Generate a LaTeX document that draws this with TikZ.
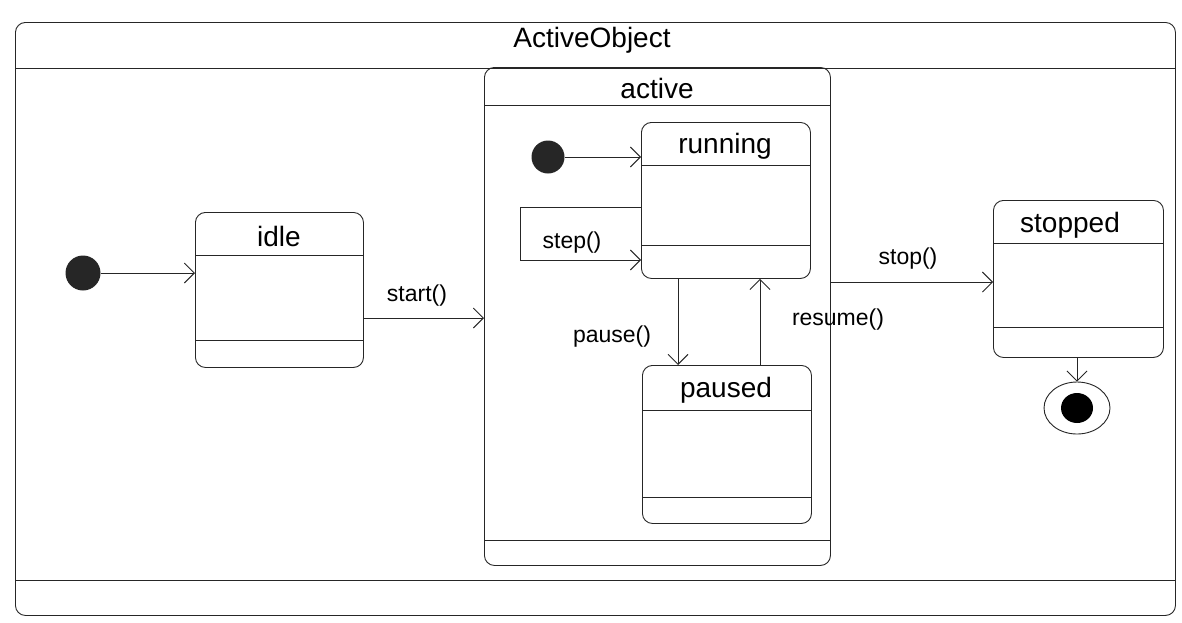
\documentclass[tikz,border=0pt]{standalone}
\usepackage{fontspec}
\setmainfont{Liberation Sans}
\usetikzlibrary{arrows.meta,shapes.geometric,calc}
\begin{document}
\begin{tikzpicture}[x=1pt,y=-1pt,
  ln/.style={draw=black!85,line width=0.9pt},
  statebox/.style={ln,rectangle,rounded corners=10pt,anchor=north west,inner sep=0pt},
  stname/.style={font=\fontsize{28}{30}\selectfont,inner sep=0pt,anchor=center},
  lbl/.style={font=\fontsize{23}{26}\selectfont,inner sep=0pt,anchor=center},
  initdot/.style={circle,fill=black!85,inner sep=0pt,minimum size=35pt},
  tr/.style={ln,-{Straight Barb[length=10pt,width=20pt,line width=0.9pt]}}]
\useasboundingbox (0,0) rectangle (1182,622);
% outer frame
\node[statebox,minimum width=1160pt,minimum height=593pt] (outer) at (15,22) {};
\draw[ln] (15,68) -- (1175,68);
\draw[ln] (15,580) -- (1175,580);
\node[stname] (outerT) at (592,40) {ActiveObject};
% active composite
\node[statebox,minimum width=346pt,minimum height=498pt] (active) at (484,67) {};
\draw[ln] (484,105) -- (830,105);
\draw[ln] (484,540) -- (830,540);
\node[stname] (activeT) at (657,88) {active};
% idle
\node[statebox,minimum width=168pt,minimum height=155pt] (idle) at (195,212) {};
\draw[ln] (195,255) -- (363,255);
\draw[ln] (195,340) -- (363,340);
\node[stname] (idleT) at (279,236) {idle};
% running
\node[statebox,minimum width=169pt,minimum height=156pt] (running) at (641,122) {};
\draw[ln] (641,165) -- (810,165);
\draw[ln] (641,245) -- (810,245);
\node[stname] (runningT) at (725,146) {running};
% paused
\node[statebox,minimum width=169pt,minimum height=158pt] (paused) at (642,365) {};
\draw[ln] (642,410) -- (811,410);
\draw[ln] (642,497) -- (811,497);
\node[stname] (pausedT) at (726,390) {paused};
% stopped
\node[statebox,minimum width=170pt,minimum height=157pt] (stopped) at (993,200) {};
\draw[ln] (993,243) -- (1163,243);
\draw[ln] (993,327) -- (1163,327);
\node[stname] (stoppedT) at (1070,225) {stopped};
% pseudo states
\node[initdot] (init1) at (83,273) {};
\node[initdot,minimum size=33pt] (init2) at (548,157) {};
\node[ellipse,ln,minimum width=66pt,minimum height=52pt,inner sep=0pt] (final) at (1077,408) {};
\fill[black] (final.center) ellipse [x radius=16pt, y radius=15pt];
% helper coordinates
\coordinate (yStart) at (0,318);
\coordinate (yStop) at (0,282);
\coordinate (xPause) at (678,0);
\coordinate (xResume) at (760,0);
\coordinate (stepA) at (641,207);
\coordinate (stepB) at (520,207);
\coordinate (stepC) at (520,260);
\coordinate (stepD) at (641,260);
% transitions
\draw[tr] (init1) -- (idle.west |- init1);
\draw[tr] (init2) -- (running.west |- init2);
\draw[tr] (idle.east |- yStart) -- (active.west |- yStart);
\node[lbl] (startL) at (417,296) {start()};
\draw[tr] (active.east |- yStop) -- (stopped.west |- yStop);
\node[lbl] (stopL) at (908,259) {stop()};
\draw[tr] (xPause |- running.south) -- (xPause |- paused.north);
\node[lbl] (pauseL) at (612,337) {pause()};
\draw[tr] (xResume |- paused.north) -- (xResume |- running.south);
\node[lbl] (resumeL) at (838,320) {resume()};
\draw[tr] (stepA) -- (stepB) -- (stepC) -- (stepD);
\node[lbl] (stepL) at (572,243) {step()};
\draw[tr] (final.north |- stopped.south) -- (final.north);
\end{tikzpicture}
\end{document}
